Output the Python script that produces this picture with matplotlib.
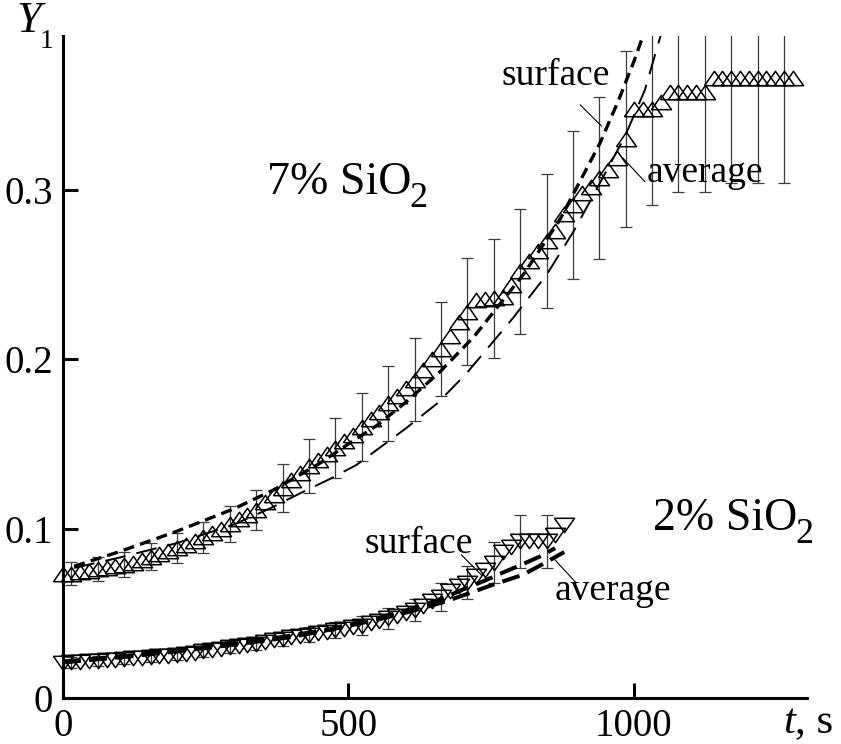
import matplotlib
matplotlib.use("Agg")
import matplotlib.pyplot as plt
from matplotlib.transforms import IdentityTransform

plt.rcParams['font.family'] = ['Liberation Serif', 'DejaVu Serif']
plt.rcParams['mathtext.fontset'] = 'custom'
plt.rcParams['mathtext.rm'] = 'Liberation Serif'
plt.rcParams['mathtext.it'] = 'Liberation Serif:italic'
plt.rcParams['lines.scale_dashes'] = False

# ---------------- data ----------------
T = [0, 15, 31, 46, 62, 77, 92, 108, 123, 139, 154, 169, 185, 200, 216, 231, 246,
     262, 277, 293, 308, 323, 339, 354, 370, 385, 400, 416, 431, 447, 462, 477,
     493, 508, 524, 539, 554, 570, 585, 601, 616, 631, 647, 662, 678, 693, 708,
     724, 739, 755, 770, 785, 801, 816, 832, 847, 862, 878, 893, 909, 924, 939,
     955, 970, 986, 1001, 1016, 1032, 1047, 1063, 1078, 1093, 1109, 1124, 1140,
     1155, 1170, 1186, 1201, 1217, 1232, 1247, 1263, 1278]

# 7% SiO2 measured (up triangles)
Y7 = [0.0730, 0.0735, 0.0742, 0.0752, 0.0761, 0.0768, 0.0777, 0.0787, 0.0800,
      0.0818, 0.0834, 0.0850, 0.0867, 0.0885, 0.0905, 0.0927, 0.0948, 0.0975,
      0.1000, 0.1028, 0.1055, 0.1082, 0.1110, 0.1155, 0.1200, 0.1240, 0.1285,
      0.1330, 0.1370, 0.1405, 0.1440, 0.1475, 0.1515, 0.1555, 0.1600, 0.1645,
      0.1690, 0.1740, 0.1785, 0.1830, 0.1880, 0.1940, 0.2000, 0.2060, 0.2140,
      0.2220, 0.2280, 0.2350, 0.2355, 0.2360, 0.2370, 0.2440, 0.2520, 0.2580,
      0.2640, 0.2700, 0.2760, 0.2860, 0.2910, 0.2980, 0.3020, 0.3070, 0.3120,
      0.3190, 0.3300, 0.3480, 0.3480, 0.3480, 0.3520, 0.3580, 0.3580, 0.3580,
      0.3580, 0.3580, 0.3660, 0.3660, 0.3660, 0.3660, 0.3660, 0.3660, 0.3660,
      0.3660, 0.3660, 0.3660]
# half error for every third point (index 1, 4, 7, ...)
E7 = [0.0070, 0.0070, 0.0073, 0.0080, 0.0088, 0.0093, 0.0105, 0.0120, 0.0142,
      0.0160, 0.0178, 0.0199, 0.0221, 0.0246, 0.0278, 0.0316, 0.0350, 0.0370,
      0.0397, 0.0437, 0.0477, 0.0520, 0.0570, 0.0590, 0.0590, 0.0617, 0.0617,
      0.0617]

# 2% SiO2 measured (down triangles)
Y2 = [0.0205, 0.0210, 0.0213, 0.0216, 0.0219, 0.0222, 0.0226, 0.0230, 0.0234,
      0.0238, 0.0242, 0.0246, 0.0250, 0.0255, 0.0262, 0.0268, 0.0275, 0.0283,
      0.0291, 0.0300, 0.0306, 0.0313, 0.0320, 0.0330, 0.0340, 0.0350, 0.0358,
      0.0366, 0.0375, 0.0383, 0.0391, 0.0400, 0.0409, 0.0418, 0.0428, 0.0441,
      0.0455, 0.0470, 0.0486, 0.0503, 0.0520, 0.0545, 0.0570, 0.0595, 0.0630,
      0.0660, 0.0680, 0.0720, 0.0755, 0.0800, 0.0860, 0.0890, 0.0925, 0.0930,
      0.0930, 0.0925, 0.0960, 0.1020]
E2 = [0.0030, 0.0030, 0.0030, 0.0030, 0.0031, 0.0033, 0.0035, 0.0037, 0.0040,
      0.0043, 0.0047, 0.0056, 0.0062, 0.0067, 0.0083, 0.0098, 0.0120, 0.0155,
      0.0155]

# model curves
S7_T = [20, 100, 200, 300, 370, 450, 500, 550, 600, 660, 720, 806, 870, 941, 973, 1000, 1020]
S7_Y = [0.0778, 0.0865, 0.0985, 0.1118, 0.1230, 0.1386, 0.1500, 0.1610, 0.1745,
        0.1925, 0.2134, 0.2499, 0.2823, 0.3280, 0.3530, 0.3760, 0.3950]
A7_T = [20, 100, 200, 300, 363, 418, 468, 514, 601, 656, 707, 788, 847, 894, 923, 984, 1019, 1050]
A7_Y = [0.0768, 0.0830, 0.0915, 0.1025, 0.1120, 0.1213, 0.1294, 0.1376, 0.1593,
        0.1741, 0.1918, 0.2243, 0.2499, 0.2754, 0.2932, 0.3315, 0.3590, 0.3950]
S2_T = [0, 100, 200, 300, 400, 470, 550, 610, 670, 700, 740, 770, 805, 835, 862]
S2_Y = [0.0215, 0.0245, 0.0280, 0.0322, 0.0368, 0.0410, 0.0470, 0.0525, 0.0595,
        0.0640, 0.0695, 0.0740, 0.0790, 0.0835, 0.0885]
A2_T = [0, 100, 200, 300, 400, 470, 550, 610, 670, 700, 754, 805, 840, 878]
A2_Y = [0.0210, 0.0240, 0.0275, 0.0315, 0.0360, 0.0405, 0.0462, 0.0512, 0.0570,
        0.0605, 0.0670, 0.0727, 0.0790, 0.0862]

X_TICKS = [0, 500, 1000]
X_LABELS = ['0', '500', '1000']
Y_TICKS = [0, 0.1, 0.2, 0.3]
Y_LABELS = ['0', '0.1', '0.2', '0.3']

# ---------------- figure ----------------
W, H = 841, 744
fig = plt.figure(figsize=(8.41, 7.44), dpi=100)
ax = fig.add_axes([0.07456, 0.06183, 0.88501, 0.88978])
ax.set_xlim(0, 1303)
ax.set_ylim(0, 0.391)

tri_up = [(-1, -0.72), (1, -0.72), (0, 0.72), (-1, -0.72)]
tri_dn = [(-1, 0.72), (1, 0.72), (0, -0.72), (-1, 0.72)]

# error bars
ax.errorbar(T[1::3], Y7[1::3], yerr=E7, fmt='none', ecolor='#3c3c3c',
            elinewidth=0.9, capsize=4, capthick=0.9, zorder=2)
ax.errorbar(T[1:len(Y2):3], Y2[1::3], yerr=E2, fmt='none', ecolor='#3c3c3c',
            elinewidth=0.9, capsize=4, capthick=0.9, zorder=2)

# model curves
ax.plot(S7_T, S7_Y, color='black', lw=2.4, dashes=(8, 4.5), zorder=3)
ax.plot(A7_T, A7_Y, color='black', lw=1.4, dashes=(15, 8), zorder=3)
ax.plot(S2_T, S2_Y, color='black', lw=2.9, dashes=(13, 6), zorder=3)
ax.plot(A2_T, A2_Y, color='black', lw=2.9, dashes=(13, 6), zorder=3)

# measured points
ax.plot(T, Y7, linestyle='none', marker=tri_up, ms=14.4, mfc='none',
        mec='black', mew=1.1, clip_on=False, zorder=4)
ax.plot(T[:len(Y2)], Y2, linestyle='none', marker=tri_dn, ms=14.4, mfc='none',
        mec='black', mew=1.1, clip_on=False, zorder=4)

# axes styling
for s in ['top', 'right']:
    ax.spines[s].set_visible(False)
for s in ['left', 'bottom']:
    ax.spines[s].set_linewidth(2.2)
ax.set_xticks(X_TICKS)
ax.set_xticklabels(X_LABELS)
ax.set_yticks(Y_TICKS)
ax.set_yticklabels(Y_LABELS)
ax.tick_params(direction='in', length=10.5, width=2.2, labelsize=28, pad=7)

# axis labels (pixel placement, origin bottom-left)
def ptext(px, py, s, **kw):
    return fig.text(px, H - py, s, transform=IdentityTransform(), **kw)

ptext(16, 32, 'Y', fontsize=32, style='italic', ha='left', va='baseline')
ptext(40, 48, '1', fontsize=20, ha='left', va='baseline')
ptext(783, 733, 't', fontsize=31, style='italic', ha='left', va='baseline')
ptext(795, 733, ', s', fontsize=31, ha='left', va='baseline')

# SiO2 labels with lowered subscript
fig.canvas.draw()
renderer = fig.canvas.get_renderer()
for tx, ty, s in [(357, 0.2977, '7% SiO'), (1033, 0.0992, '2% SiO')]:
    t = ax.text(tx, ty, s, fontsize=33, ha='left', va='baseline', clip_on=False)
    bb = t.get_window_extent(renderer)
    bx, by = ax.transData.transform((tx, ty))
    fig.text(bb.x1 - 2, by - 13, '2', fontsize=26, ha='left', va='baseline',
             transform=IdentityTransform())

ax.text(768, 0.362, 'surface', fontsize=27, ha='left', va='baseline')
ax.text(1022, 0.305, 'average', fontsize=27, ha='left', va='baseline')
ax.text(529, 0.0855, 'surface', fontsize=27, ha='left', va='baseline')
ax.text(862, 0.0579, 'average', fontsize=27, ha='left', va='baseline')

# leader lines
ax.plot([906, 943], [0.3503, 0.3379], color='black', lw=0.8)
ax.plot([981, 1019], [0.3188, 0.3050], color='black', lw=0.8)
ax.plot([698, 733], [0.0845, 0.0727], color='black', lw=0.8)
ax.plot([862, 897], [0.0815, 0.0687], color='black', lw=0.8)

fig.savefig('out.png', dpi=100)
